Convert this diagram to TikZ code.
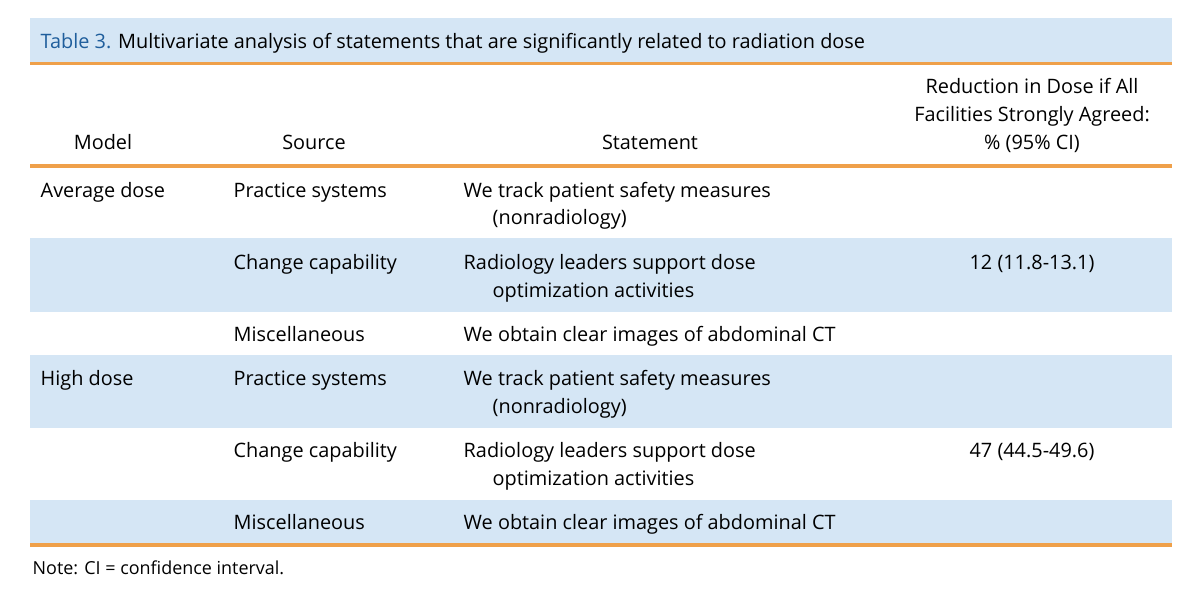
\documentclass[tikz,border=0pt]{standalone}
\usepackage{fontspec}
\setmainfont{Open Sans}
\definecolor{bandblue}{HTML}{D5E6F5}
\definecolor{rule}{HTML}{EFA04A}
\definecolor{titleblue}{HTML}{1F5E9C}
\begin{document}
\begin{tikzpicture}[x=0.01cm,y=-0.01cm,
  txt/.style={anchor=base west,inner sep=0pt,font=\fontsize{5.65pt}{6.8pt}\selectfont},
  hdr/.style={anchor=base,inner sep=0pt,font=\fontsize{5.65pt}{6.8pt}\selectfont,align=center},
  orule/.style={draw=rule,line width=0.9pt}]
\useasboundingbox (0,0) rectangle (1200,600);
\fill[bandblue] (30,18) rectangle (1172,62);
\foreach \a/\b in {238/312,355/428,500/545} \fill[bandblue] (30,\a) rectangle (1172,\b);
\draw[orule] (30,63.5) -- (1172,63.5);
\draw[orule] (30,166) -- (1172,166);
\draw[orule] (30,545) -- (1172,545);
\node[txt] (title) at (40,48) {\textcolor{titleblue}{Table 3.} Multivariate analysis of statements that are significantly related to radiation dose};
\node[hdr] (hm) at (103,149) {Model};
\node[hdr] (hs) at (314,149) {Source};
\node[hdr] (hst) at (650,149) {Statement};
\node[hdr] (hr1) at (1032,93) {Reduction in Dose if All};
\node[hdr] (hr2) at (1032,121) {Facilities Strongly Agreed:};
\node[hdr] (hr3) at (1032,149) {\% (95\% CI)};
% rows
\node[txt] (m1) at (40,197) {Average dose};
\node[txt] (s1) at (233,197) {Practice systems};
\node[txt] (t1) at (463,197) {We track patient safety measures};
\node[txt] (t1b) at (492,224) {(nonradiology)};
\node[txt] (s2) at (233,269) {Change capability};
\node[txt] (t2) at (463,269) {Radiology leaders support dose};
\node[txt] (t2b) at (492,297) {optimization activities};
\node[hdr] (r2) at (1032,269) {12 (11.8-13.1)};
\node[txt] (s3) at (233,341) {Miscellaneous};
\node[txt] (t3) at (463,341) {We obtain clear images of abdominal CT};
\node[txt] (m4) at (40,385) {High dose};
\node[txt] (s4) at (233,385) {Practice systems};
\node[txt] (t4) at (463,385) {We track patient safety measures};
\node[txt] (t4b) at (492,413) {(nonradiology)};
\node[txt] (s5) at (233,457) {Change capability};
\node[txt] (t5) at (463,457) {Radiology leaders support dose};
\node[txt] (t5b) at (492,485) {optimization activities};
\node[hdr] (r5) at (1032,457) {47 (44.5-49.6)};
\node[txt] (s6) at (233,529) {Miscellaneous};
\node[txt] (t6) at (463,529) {We obtain clear images of abdominal CT};
\node[txt,font=\fontsize{5.1pt}{6pt}\selectfont] (note) at (32,574) {Note: CI = confidence interval.};
\end{tikzpicture}
\end{document}
